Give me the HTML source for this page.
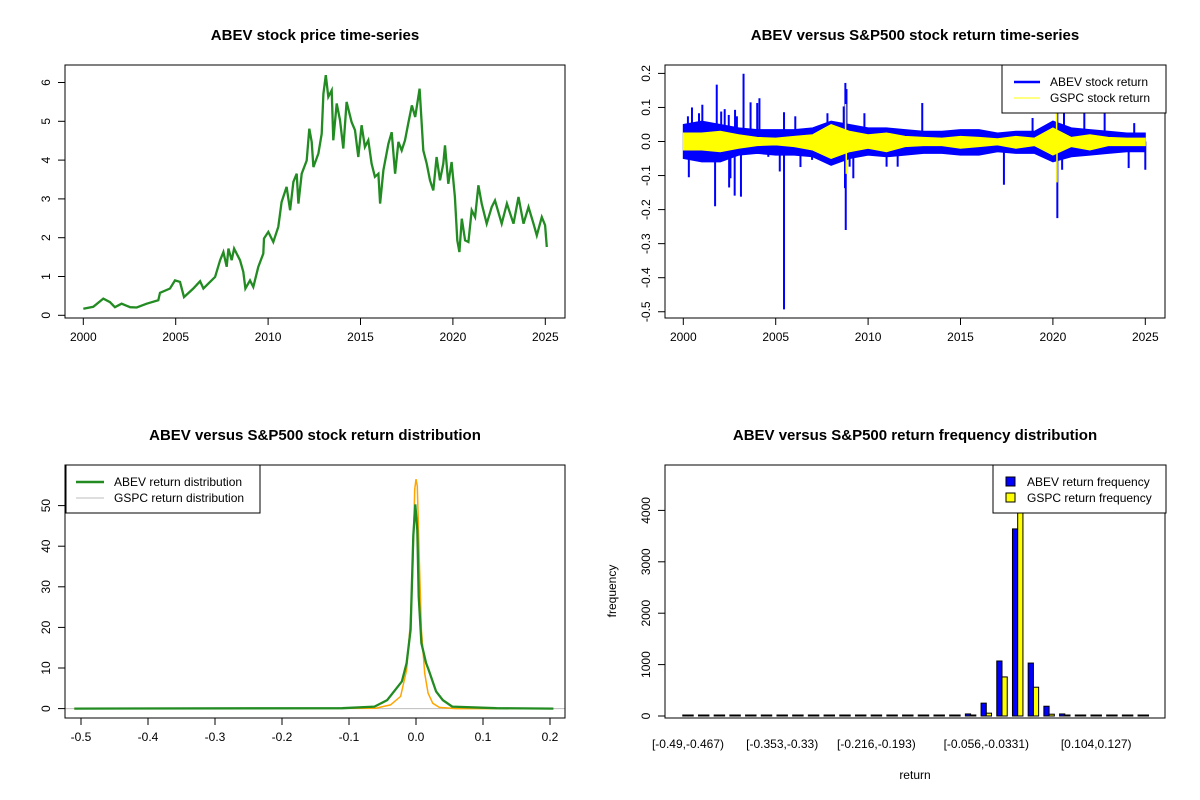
<!DOCTYPE html>
<html><head><meta charset="utf-8"><style>
html,body{margin:0;padding:0;background:#fff;width:1200px;height:800px;overflow:hidden}
svg text{font-family:"Liberation Sans",Arial,sans-serif;fill:#000}
</style></head><body>
<svg id="s" width="1200" height="800" xmlns="http://www.w3.org/2000/svg"></svg>
<script>
// ---- Panel 1 data: ABEV price
const priceYears=[2000,2000.54,2001.08,2001.44,2001.71,2002.07,2002.53,2002.89,2003.43,2004.06,2004.15,2004.69,2004.96,2005.23,2005.45,2005.95,2006.32,2006.5,2007.13,2007.4,2007.58,2007.76,2007.85,2008.03,2008.16,2008.48,2008.66,2008.77,2009.02,2009.2,2009.47,2009.74,2009.78,2010.01,2010.28,2010.55,2010.73,2011.0,2011.19,2011.37,2011.55,2011.64,2011.82,2012.09,2012.23,2012.36,2012.45,2012.72,2012.9,2012.99,2013.12,2013.26,2013.44,2013.53,2013.71,2013.89,2014.07,2014.25,2014.52,2014.7,2014.88,2015.06,2015.24,2015.42,2015.6,2015.78,2015.97,2016.06,2016.24,2016.51,2016.69,2016.87,2017.05,2017.23,2017.41,2017.6,2017.78,2017.96,2018.2,2018.4,2018.58,2018.76,2018.94,2019.12,2019.3,2019.48,2019.57,2019.75,2019.93,2020.11,2020.24,2020.35,2020.48,2020.66,2020.84,2021.02,2021.2,2021.38,2021.56,2021.83,2022.1,2022.28,2022.64,2022.92,2023.28,2023.55,2023.82,2024.09,2024.36,2024.54,2024.81,2024.99,2025.08];
const priceVals=[0.17,0.22,0.43,0.34,0.21,0.3,0.21,0.2,0.3,0.39,0.58,0.69,0.9,0.86,0.47,0.69,0.88,0.69,0.99,1.42,1.63,1.25,1.72,1.42,1.72,1.42,1.12,0.69,0.9,0.73,1.25,1.59,1.98,2.15,1.89,2.28,2.92,3.31,2.71,3.44,3.65,2.88,3.65,3.99,4.81,4.47,3.82,4.17,4.68,5.71,6.19,5.63,5.8,4.51,5.46,5.03,4.3,5.5,4.98,4.77,4.08,4.9,4.34,4.51,3.91,3.57,3.65,2.88,3.74,4.42,4.72,3.65,4.47,4.25,4.51,4.98,5.41,5.11,5.84,4.25,3.91,3.48,3.22,4.08,3.48,3.91,4.38,3.39,3.95,3.05,1.93,1.63,2.49,1.93,1.89,2.71,2.53,3.35,2.88,2.36,2.79,2.96,2.36,2.88,2.36,3.05,2.36,2.79,2.36,2.06,2.53,2.32,1.76];
const priceYTicks=[0,1,2,3,4,5,6];
const yearTicks=[2000,2005,2010,2015,2020,2025];
// ---- Panel 2 data: returns
const envYears=[2000,2001,2002,2003,2004,2005,2006,2007,2008,2009,2010,2011,2012,2013,2014,2015,2016,2017,2018,2019,2020,2021,2022,2023,2024,2025];
const abevUp=[0.05,0.06,0.05,0.04,0.035,0.035,0.035,0.04,0.06,0.05,0.04,0.04,0.035,0.03,0.03,0.035,0.035,0.025,0.03,0.03,0.06,0.04,0.035,0.03,0.025,0.025];
const abevDn=[-0.05,-0.06,-0.06,-0.04,-0.035,-0.04,-0.04,-0.045,-0.07,-0.05,-0.04,-0.045,-0.04,-0.035,-0.035,-0.04,-0.04,-0.03,-0.035,-0.035,-0.06,-0.045,-0.04,-0.035,-0.03,-0.03];
const gspcUp=[0.025,0.025,0.03,0.02,0.012,0.01,0.015,0.02,0.05,0.03,0.02,0.025,0.015,0.012,0.01,0.015,0.012,0.008,0.015,0.01,0.04,0.012,0.02,0.012,0.01,0.01];
const gspcDn=[-0.025,-0.025,-0.03,-0.02,-0.012,-0.01,-0.015,-0.025,-0.05,-0.03,-0.02,-0.03,-0.015,-0.012,-0.012,-0.02,-0.015,-0.01,-0.02,-0.012,-0.04,-0.015,-0.025,-0.012,-0.012,-0.012];
const abevSpikeYears=[2000.3,2000.25,2000.47,2000.85,2001.03,2001.4,2001.72,2001.81,2002.05,2002.24,2002.46,2002.48,2002.55,2002.78,2002.8,2002.9,2003.12,2003.26,2003.55,2003.64,2004.0,2004.12,2004.6,2005.22,2005.45,2005.45,2006.06,2006.34,2006.97,2007.8,2008.68,2008.77,2008.83,2008.79,2008.75,2009.0,2009.2,2009.8,2011.0,2011.6,2012.93,2017.35,2018.9,2020.24,2020.24,2020.5,2020.6,2021.7,2022.8,2024.1,2025.0,2024.4];
const abevSpikeVals=[-0.105,0.074,0.1,0.083,0.108,0.044,-0.19,0.167,0.088,0.095,0.078,-0.135,-0.108,-0.159,0.093,0.074,-0.162,0.199,-0.034,0.115,0.113,0.127,-0.045,-0.088,-0.493,0.086,0.074,-0.075,-0.054,0.083,0.103,0.172,0.154,-0.26,-0.137,-0.074,-0.108,0.083,-0.074,-0.074,0.113,-0.127,0.069,-0.225,0.103,-0.083,0.083,0.083,0.083,-0.078,-0.083,0.054];
const gspcSpikeYears=[2008.78,2008.82,2020.2,2020.22];
const gspcSpikeVals=[0.11,-0.095,0.09,-0.12];
const retYTicks=[-0.5,-0.4,-0.3,-0.2,-0.1,0,0.1,0.2];
// ---- Panel 3 data: densities
const abevDensX=[-0.51,-0.11,-0.062,-0.043,-0.031,-0.021,-0.014,-0.008,-0.004,-0.001,0.002,0.004,0.008,0.015,0.019,0.03,0.04,0.054,0.12,0.205];
const abevDensY=[0,0.1,0.5,2.1,4.6,6.7,11.2,19.4,42.5,50.3,44,27.6,16.1,11.2,9.5,4.2,2.1,0.5,0.1,0];
const gspcDensX=[-0.51,-0.06,-0.038,-0.023,-0.014,-0.009,-0.005,-0.002,0,0.002,0.005,0.008,0.013,0.018,0.025,0.035,0.06,0.205];
const gspcDensY=[0,0.1,0.9,3,9.5,20,32.6,54,56.5,54.8,35.9,19.4,8.7,3.8,1.3,0.3,0,0];
const densXTicks=[-0.5,-0.4,-0.3,-0.2,-0.1,0,0.1,0.2];
const densYTicks=[0,10,20,30,40,50];
// ---- Panel 4 data: histogram counts (30 bins)
const binLabels=["[-0.49,-0.467)","[-0.353,-0.33)","[-0.216,-0.193)","[-0.056,-0.0331)","[0.104,0.127)"];
const binLabelIdx=[0,6,12,19,26];
const abevFreq=[1,0,0,0,0,0,0,0,0,0,0,0,0,0,0,0,2,5,40,250,1070,3640,1030,190,40,10,6,2,0,1];
const gspcFreq=[0,0,0,0,0,0,0,0,0,0,0,0,0,0,0,0,0,2,12,55,760,4400,560,35,10,3,1,0,0,0];
const freqTicks=[0,1000,2000,3000,4000];

const NS="http://www.w3.org/2000/svg";
const svg=document.getElementById('s');
function mk(tag,attrs,parent,txt){const e=document.createElementNS(NS,tag);for(const k in attrs)e.setAttribute(k,attrs[k]);if(txt!==undefined)e.textContent=txt;(parent||svg).appendChild(e);return e;}
function grp(name){const g=mk('g',{});


return g;}
function title(g,x,y,t){const e=mk('text',{x:x,y:y,'text-anchor':'middle','font-size':'15','font-weight':'bold'},g,t);

}
function box(g,x0,y0,x1,y1){const e=mk('rect',{x:x0,y:y0,width:x1-x0,height:y1-y0,fill:'none',stroke:'#000','stroke-width':1},g);

}
function xAxis(g,ticks,fx,yb,fmt){const a=grp('x-axis');g.appendChild(a);
mk('line',{x1:fx(ticks[0]),x2:fx(ticks[ticks.length-1]),y1:yb,y2:yb,stroke:'#000'},a);
ticks.forEach(t=>{mk('line',{x1:fx(t),x2:fx(t),y1:yb,y2:yb+7,stroke:'#000'},a);
const l=mk('text',{x:fx(t),y:yb+23,'text-anchor':'middle','font-size':'12'},a,fmt(t));

});}
function yAxis(g,ticks,fy,xl,fmt){const a=grp('y-axis');g.appendChild(a);
mk('line',{x1:xl,x2:xl,y1:fy(ticks[0]),y2:fy(ticks[ticks.length-1]),stroke:'#000'},a);
ticks.forEach(t=>{mk('line',{x1:xl-7,x2:xl,y1:fy(t),y2:fy(t),stroke:'#000'},a);
const l=mk('text',{x:0,y:0,'text-anchor':'middle','font-size':'12',transform:`translate(${xl-15},${fy(t)}) rotate(-90)`},a,fmt(t));

});}
function poly(g,xs,ys,fx,fy,col,w,name){const d=xs.map((x,i)=>(i?'L':'M')+fx(x).toFixed(1)+','+fy(ys[i]).toFixed(1)).join('');
const p=mk('path',{d:d,fill:'none',stroke:col,'stroke-width':w,'stroke-linejoin':'miter'},g);

return p;}

// Panel 1
(function(){const g=grp('price-panel');svg.appendChild(g);
const fx=y=>83.3+(y-2000)*18.48, fy=v=>315.3-v*38.8;
title(g,315,40,'ABEV stock price time-series');
poly(g,priceYears,priceVals,fx,fy,'#228B22',2.3,'price-line');
box(g,65,65,565,318);
xAxis(g,yearTicks,fx,318,String);yAxis(g,priceYTicks,fy,65,String);})();

// Panel 2
(function(){const g=grp('return-panel');svg.appendChild(g);
const fx=y=>683.3+(y-2000)*18.48, fy=v=>141.5-v*340.5;
title(g,915,40,'ABEV versus S&P500 stock return time-series');
const clip=mk('clipPath',{id:'c2'},g);mk('rect',{x:665,y:65,width:500,height:253},clip);
const d=grp('return-series');d.setAttribute('clip-path','url(#c2)');g.appendChild(d);
function band(up,dn,col,name){const xs=envYears.concat(envYears.slice().reverse());const ys=up.concat(dn.slice().reverse());
const pts=xs.map((x,i)=>fx(Math.min(x,2025.05)).toFixed(1)+','+fy(ys[i]).toFixed(1)).join(' ');
const p=mk('polygon',{points:pts,fill:col,stroke:col,'stroke-width':1},d);

}
function spikes(xs,vs,col,w,name){xs.forEach((x,i)=>{const l=mk('line',{x1:fx(x),x2:fx(x),y1:fy(0),y2:fy(vs[i]),stroke:col,'stroke-width':w},d);

});}
band(abevUp,abevDn,'#0000FF','abev-return-band');
spikes(abevSpikeYears,abevSpikeVals,'#0000FF',2,'abev-return-spike');
band(gspcUp,gspcDn,'#FFFF00','gspc-return-band');
spikes(gspcSpikeYears,gspcSpikeVals,'#FFFF00',1.5,'gspc-return-spike');
box(g,665,65,1165,318);
xAxis(g,yearTicks,fx,318,String);yAxis(g,retYTicks,fy,665,v=>v.toFixed(1));
const lg=grp('legend');g.appendChild(lg);
mk('rect',{x:1002,y:65,width:164,height:48,fill:'#fff',stroke:'#000'},lg);
mk('line',{x1:1014,x2:1040,y1:82,y2:82,stroke:'#0000FF','stroke-width':2.5},lg);
mk('line',{x1:1014,x2:1040,y1:98,y2:98,stroke:'#FFFF00','stroke-width':1},lg);
mk('text',{x:1050,y:86,'font-size':'12'},lg,'ABEV stock return');
mk('text',{x:1050,y:102,'font-size':'12'},lg,'GSPC stock return');})();

// Panel 3
(function(){const g=grp('density-panel');svg.appendChild(g);
const fx=v=>416+v*670, fy=v=>708.6-v*4.06;
title(g,315,440,'ABEV versus S&P500 stock return distribution');
const bl=mk('line',{x1:65,x2:565,y1:fy(0),y2:fy(0),stroke:'#BEBEBE','stroke-width':1},g);


poly(g,gspcDensX,gspcDensY,fx,fy,'#FFA500',1.5,'gspc-density-line');
poly(g,abevDensX,abevDensY,fx,fy,'#228B22',2.3,'abev-density-line');
box(g,65,465,565,718);
xAxis(g,densXTicks,fx,718,v=>v.toFixed(1));yAxis(g,densYTicks,fy,65,String);
const lg=grp('legend');g.appendChild(lg);
mk('rect',{x:66,y:465,width:194,height:48,fill:'#fff',stroke:'#000'},lg);
mk('line',{x1:76,x2:104,y1:482,y2:482,stroke:'#228B22','stroke-width':2.5},lg);
mk('line',{x1:76,x2:104,y1:498,y2:498,stroke:'#BEBEBE','stroke-width':1},lg);
mk('text',{x:114,y:486,'font-size':'12'},lg,'ABEV return distribution');
mk('text',{x:114,y:502,'font-size':'12'},lg,'GSPC return distribution');})();

// Panel 4
(function(){const g=grp('histogram-panel');svg.appendChild(g);
const gc=i=>688+i*15.7, fy=v=>716-v*0.0514, w=5.23;
title(g,915,440,'ABEV versus S&P500 return frequency distribution');
const clip=mk('clipPath',{id:'c4'},g);mk('rect',{x:665,y:465,width:500,height:253},clip);
const bars=grp('bars');bars.setAttribute('clip-path','url(#c4)');g.appendChild(bars);
abevFreq.forEach((v,i)=>{const h=Math.max(1,fy(0)-fy(v));const b=mk('rect',{x:gc(i)-w,y:fy(0)-h,width:w,height:h,fill:'#0000FF',stroke:'#000','stroke-width':1},bars);

});
gspcFreq.forEach((v,i)=>{const h=Math.max(1,fy(0)-fy(v));const b=mk('rect',{x:gc(i),y:fy(0)-h,width:w,height:h,fill:'#FFFF00',stroke:'#000','stroke-width':1},bars);

});
box(g,665,465,1165,718);
yAxis(g,freqTicks,fy,665,String);
binLabelIdx.forEach((bi,k)=>{const l=mk('text',{x:gc(bi),y:748,'text-anchor':'middle','font-size':'12'},g,binLabels[k]);

});
const xt=mk('text',{x:915,y:779,'text-anchor':'middle','font-size':'12'},g,'return');


const yt=mk('text',{x:0,y:0,'text-anchor':'middle','font-size':'12',transform:'translate(616,591) rotate(-90)'},g,'frequency');


const lg=grp('legend');g.appendChild(lg);
mk('rect',{x:993,y:465,width:173,height:48,fill:'#fff',stroke:'#000'},lg);
mk('rect',{x:1006,y:477,width:9,height:9,fill:'#0000FF',stroke:'#000'},lg);
mk('rect',{x:1006,y:493,width:9,height:9,fill:'#FFFF00',stroke:'#000'},lg);
mk('text',{x:1027,y:486,'font-size':'12'},lg,'ABEV return frequency');
mk('text',{x:1027,y:502,'font-size':'12'},lg,'GSPC return frequency');})();
</script>
</body></html>
